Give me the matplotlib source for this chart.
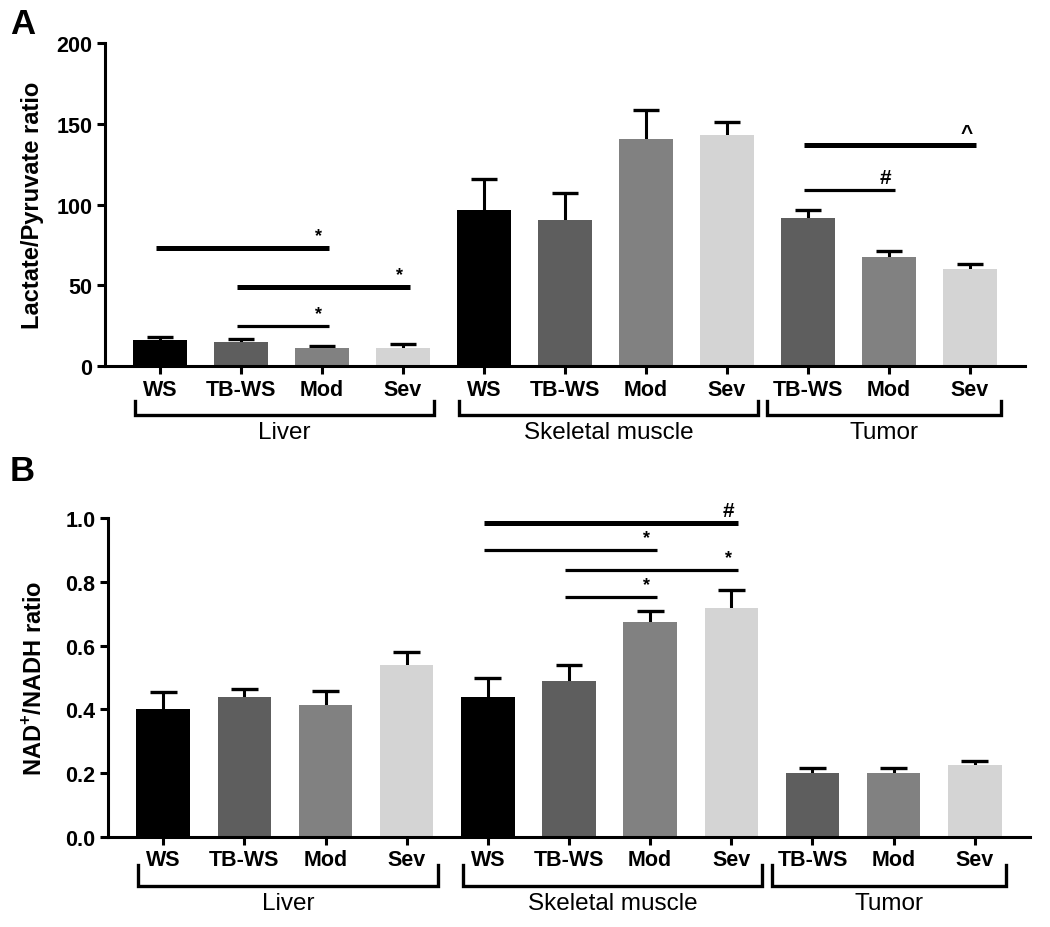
import numpy as np
import matplotlib
matplotlib.use('Agg')
import matplotlib.pyplot as plt
from matplotlib.lines import Line2D

plt.rcParams['font.family'] = ['Liberation Sans', 'DejaVu Sans']
plt.rcParams['mathtext.fontset'] = 'custom'
plt.rcParams['mathtext.rm'] = 'Liberation Sans:bold'
plt.rcParams['mathtext.bf'] = 'Liberation Sans:bold'

# categories
cond_labels = ['WS', 'TB-WS', 'Mod', 'Sev', 'WS', 'TB-WS', 'Mod', 'Sev', 'TB-WS', 'Mod', 'Sev']
cond_colors = {'WS': '#000000', 'TB-WS': '#5e5e5e', 'Mod': '#818181', 'Sev': '#d4d4d4'}
groups = ['Liver', 'Skeletal muscle', 'Tumor']
group_span = [(0, 3), (4, 7), (8, 10)]

# panel A: lactate / pyruvate
lp_mean = [16.3, 15.0, 11.3, 11.1, 96.5, 90.4, 140.5, 143.0, 91.5, 67.3, 60.0]
lp_err = [1.5, 1.6, 0.9, 2.5, 19.0, 17.0, 18.0, 8.0, 4.8, 4.0, 3.2]
lp_sig = [(0, 2, 73, '*', 'thick'), (1, 3, 49, '*', 'thick'), (1, 2, 25, '*', 'thin'),
          (8, 10, 136.8, '^', 'thick'), (8, 9, 109, '#', 'thin')]

# panel B: NAD+/NADH
nad_mean = [0.40, 0.44, 0.415, 0.54, 0.44, 0.49, 0.675, 0.717, 0.20, 0.20, 0.225]
nad_err = [0.055, 0.025, 0.043, 0.04, 0.06, 0.05, 0.033, 0.058, 0.016, 0.015, 0.012]
nad_sig = [(4, 7, 0.984, '#', 'thick'), (4, 6, 0.90, '*', 'thin'),
           (5, 7, 0.837, '*', 'thin'), (5, 6, 0.752, '*', 'thin')]

W, H = 1050, 928
fig = plt.figure(figsize=(W / 100, H / 100), dpi=100)


def panel(rect_px, means, errs, yticks, ylabel, sigs, fmt, br_h):
    l, r, t, b = rect_px
    ax = fig.add_axes([l / W, 1 - b / H, (r - l) / W, (b - t) / H])
    hpx = b - t
    x = np.arange(len(means))
    means = np.array(means)
    errs = np.array(errs)
    cols = [cond_colors[c] for c in cond_labels]
    ax.bar(x, means, width=0.66, color=cols, zorder=2)
    # upper error bars only (no cap on the bar top)
    ax.vlines(x, means, means + errs, color='black', lw=2.2, zorder=1)
    ax.hlines(means + errs, x - 0.165, x + 0.165, color='black', lw=2.4, zorder=1)
    ax.set_xlim(-0.68, len(means) - 1 + 0.68)
    ax.set_ylim(yticks[0], yticks[-1])
    ax.set_yticks(yticks)
    ax.set_yticklabels([fmt % v for v in yticks])
    ax.set_xticks(x)
    ax.set_xticklabels(cond_labels)
    for s in ['top', 'right']:
        ax.spines[s].set_visible(False)
    for s in ['left', 'bottom']:
        ax.spines[s].set_linewidth(2.2)
    ax.tick_params(axis='both', width=2.2, length=6, labelsize=15.5, pad=3)
    for lab in ax.get_xticklabels() + ax.get_yticklabels():
        lab.set_fontweight('bold')
    ax.set_ylabel(ylabel, fontsize=17, fontweight='bold')
    ax.yaxis.set_label_coords(-61 / (r - l), 0.5)

    # group brackets and names under the axis
    tr = ax.get_xaxis_transform()
    yh = -49 / hpx
    yv = yh + br_h / hpx
    for name, (i0, i1) in zip(groups, group_span):
        x0 = i0 - 0.31 if i0 < 8 else i0 - 0.5
        x1 = i1 + 0.38
        ax.add_line(Line2D([x0, x0, x1, x1], [yv, yh, yh, yv], transform=tr,
                           color='black', lw=2.4, clip_on=False, solid_joinstyle='miter'))
        ax.text((x0 + x1) / 2, -66 / hpx, name, transform=tr, ha='center', va='center',
                fontsize=17.5)

    # significance lines
    for i, j, yval, sym, kind in sigs:
        lw = 3.6 if kind == 'thick' else 2.3
        ax.plot([i - 0.05, j + 0.08], [yval, yval], color='black', lw=lw,
                solid_capstyle='butt', zorder=3)
        ax.annotate(sym, (j - 0.04, yval), xytext=(0, 9), textcoords='offset points',
                    ha='center', va='center', fontsize=15 if sym != '*' else 13,
                    fontweight='bold')
    return ax


axA = panel((105, 1025, 44, 367), lp_mean, lp_err, [0, 50, 100, 150, 200],
            'Lactate/Pyruvate ratio', lp_sig, '%d', 14)
axB = panel((108, 1030, 519, 838), nad_mean, nad_err, [0.0, 0.2, 0.4, 0.6, 0.8, 1.0],
            r'NAD$^{+}$/NADH ratio', nad_sig, '%.1f', 21)

fig.text(10 / W, 1 - 25 / H, 'A', fontsize=25, fontweight='bold', va='center', ha='left')
fig.text(10 / W, 1 - 472 / H, 'B', fontsize=25, fontweight='bold', va='center', ha='left')

fig.savefig('out.png', dpi=100)
